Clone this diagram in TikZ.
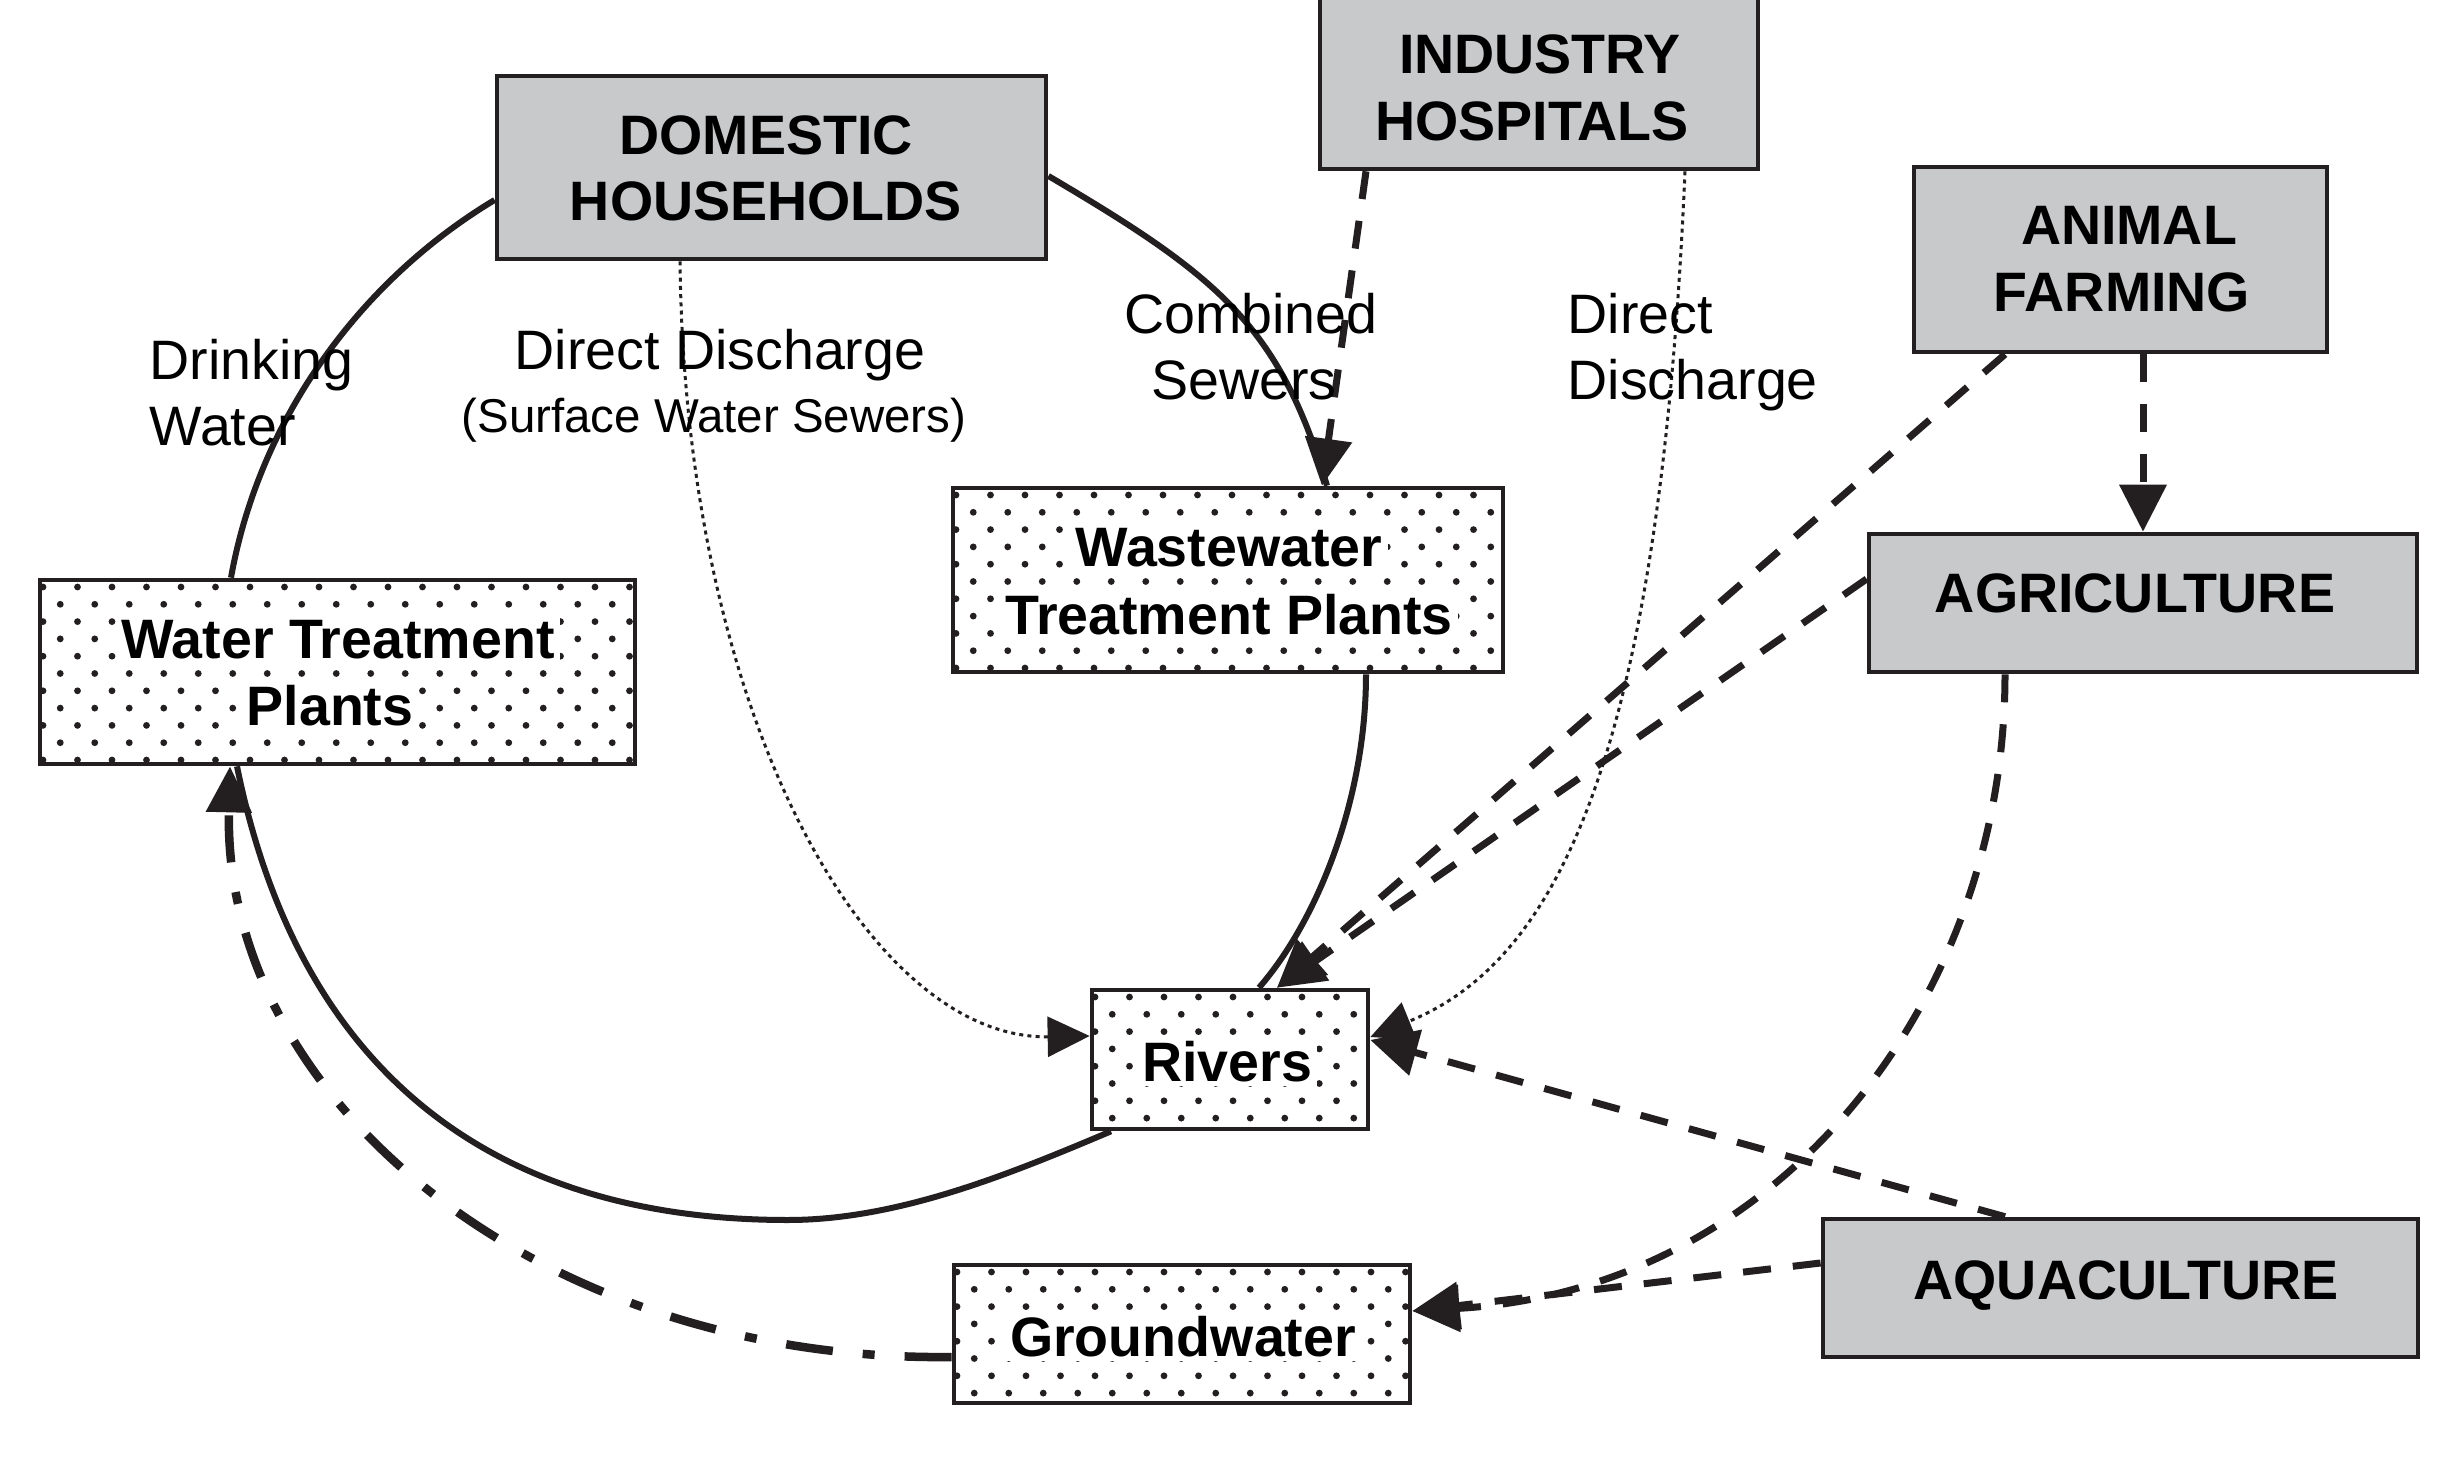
\documentclass[tikz,border=0pt]{standalone}
\usepackage{fontspec}
\setmainfont{Liberation Sans}
\usetikzlibrary{arrows.meta}
\definecolor{ink}{RGB}{35,31,32}
\definecolor{boxgray}{RGB}{200,201,203}
\pgfdeclarelayer{bg}
\pgfsetlayers{bg,main}

\newcommand\dotgrid[4]{%
  \begin{scope}
    \clip (#1,#2) rectangle (#3,#4);
    \pgfmathsetmacro\nr{int(((#4)-(#2))/17.3)+1}
    \pgfmathsetmacro\nc{int(((#3)-(#1))/34.5)+1}
    \foreach \r in {0,...,\nr}{
      \foreach \c in {0,...,\nc}{
        \fill[ink] ({#1+3+34.5*\c+17.25*mod(\r,2)},{#2+7+17.3*\r}) circle[radius=0.034cm];
      }
    }
  \end{scope}}

\tikzset{
  box/.style={draw=ink, line width=0.045cm, inner sep=0pt, rectangle},
  graybox/.style={box, fill=boxgray},
  dotbox/.style={box, fill=white},
  bt/.style={font=\fontsize{15.8}{19}\selectfont\bfseries, text=black, inner sep=0pt},
  dbt/.style={bt, fill=white, inner xsep=1.5pt, inner ysep=1.2pt},
  lt/.style={font=\fontsize{15.8}{19}\selectfont, text=black, inner sep=0pt},
  st/.style={font=\fontsize{13.5}{16}\selectfont, text=black, inner sep=0pt},
  circ/.style={draw=ink, line width=0.06cm},
  dsh/.style={draw=ink, line width=0.07cm, dash pattern=on 0.28cm off 0.22cm,
    -{Triangle[length=0.47cm,width=0.46cm]}},
  dotl/.style={draw=ink, line width=0.03cm, dash pattern=on 0.04cm off 0.042cm,
    -{Triangle[length=0.42cm,width=0.40cm]}},
  ddot/.style={draw=ink, line width=0.085cm, dash pattern=on 0.47cm off 0.3cm on 0.12cm off 0.3cm,
    -{Triangle[length=0.46cm,width=0.44cm]}},
}

\begin{document}
\begin{tikzpicture}[x=0.01cm, y=-0.01cm]
\useasboundingbox (0,0) rectangle (2445,1470);

% gray boxes
\node[graybox, minimum width=5.49cm, minimum height=1.83cm] (dom) at (771.5,167.5) {};
\node[graybox, minimum width=4.38cm, minimum height=1.81cm] (ind) at (1539,78.5) {};
\node[graybox, minimum width=4.13cm, minimum height=1.85cm] (ani) at (2120.5,259.5) {};
\node[graybox, minimum width=5.48cm, minimum height=1.38cm] (agr) at (2143,603) {};
\node[graybox, minimum width=5.95cm, minimum height=1.38cm] (aqu) at (2120.5,1288) {};
% dotted boxes
\node[dotbox, minimum width=5.50cm, minimum height=1.84cm] (wwtp) at (1228,580) {};
\node[dotbox, minimum width=5.95cm, minimum height=1.84cm] (wtp) at (337.5,672) {};
\node[dotbox, minimum width=2.76cm, minimum height=1.39cm] (riv) at (1230,1059.5) {};
\node[dotbox, minimum width=4.56cm, minimum height=1.38cm] (gw) at (1182,1334) {};

\dotgrid{953}{488}{1503}{672}
\dotgrid{40}{580}{635}{764}
\dotgrid{1092}{990}{1368}{1129}
\dotgrid{954}{1265}{1410}{1403}

% box texts
\node[bt, anchor=base] (dom-a) at (766,155) {DOMESTIC};
\node[bt, anchor=base] (dom-b) at (766,221) {HOUSEHOLDS};
\node[bt, anchor=base] (ind-a) at (1540,74) {INDUSTRY};
\node[bt, anchor=base] (ind-b) at (1532,141) {HOSPITALS};
\node[bt, anchor=base] (ani-a) at (2129,245) {ANIMAL};
\node[bt, anchor=base] (ani-b) at (2122,312) {FARMING};
\node[bt, anchor=base] (agr-a) at (2135,612) {AGRICULTURE};
\node[bt, anchor=base] (aqu-a) at (2126,1299) {AQUACULTURE};
\node[dbt, anchor=base] (wwtp-a) at (1229,567) {Wastewater};
\node[dbt, anchor=base] (wwtp-b) at (1229,634) {Treatment Plants};
\node[dbt, anchor=base] (wtp-a) at (338,659) {Water Treatment};
\node[dbt, anchor=base] (wtp-b) at (330,725) {Plants};
\node[dbt, anchor=base] (riv-a) at (1227,1081) {Rivers};
\node[dbt, anchor=base] (gw-a) at (1183,1356) {Groundwater};

% connector labels
\node[lt, anchor=base west] (dw-a) at (149,380) {Drinking};
\node[lt, anchor=base west] (dw-b) at (149,446) {Water};
\node[lt, anchor=base] (dd-a) at (720,370) {Direct Discharge};
\node[st, anchor=base] (dd-b) at (714,433) {(Surface Water Sewers)};
\node[lt, anchor=base] (cs-a) at (1251,334) {Combined};
\node[lt, anchor=base] (cs-b) at (1244,400) {Sewers};
\node[lt, anchor=base west] (di-a) at (1567,334) {Direct};
\node[lt, anchor=base west] (di-b) at (1567,400) {Discharge};

\begin{pgfonlayer}{bg}
\fill[white] (0,0) rectangle (2445,1470);
% the water cycle (solid)
\draw[circ] ([shift={(-106.5,0)}]wtp.north) .. controls (258.5,423.4) and (355.8,283.5) .. ([shift={(0,32.5)}]dom.west);
\draw[circ] ([shift={(0,8.5)}]dom.east) .. controls (1218,276) and (1279,325) .. ([shift={(99,0)}]wwtp.north);
\draw[circ] ([shift={(138,0)}]wwtp.south) .. controls (1366,800) and (1317,921) .. ([shift={(29,0)}]riv.north);
\draw[circ] ([shift={(-119,0)}]riv.south) .. controls (1010,1174) and (898,1220) .. (788,1220)
   .. controls (488,1220) and (298,1068) .. ([shift={(-100.5,0)}]wtp.south);
% dotted direct discharges
\draw[dotl] ([shift={(-91.5,0)}]dom.south) .. controls (685,720) and (870,1040) .. ([shift={(0,-23.5)}]riv.west);
\draw[dotl] ([shift={(146,0)}]ind.south) .. controls (1660,750) and (1560,960) .. ([shift={(0,-22.5)}]riv.east);
% dashed
\draw[dsh] ([shift={(-173,0)}]ind.south) -- ([shift={(94,0)}]wwtp.north);
\draw[dsh] ([shift={(22.5,0)}]ani.south) -- (agr.north);
\draw[dsh] ([shift={(-115.5,0)}]ani.south) -- ([shift={(47,0)}]riv.north);
\draw[dsh] ([shift={(0,-24)}]agr.west) -- ([shift={(47,0)}]riv.north);
\draw[dsh] ([shift={(-138,0)}]agr.south) .. controls (2005,1000) and (1780,1290) .. ([shift={(0,-23)}]gw.east);
\draw[dsh] ([shift={(-115.5,0)}]aqu.north) -- ([shift={(0,-19.5)}]riv.east);
\draw[dsh] ([shift={(0,-25)}]aqu.west) -- ([shift={(0,-23)}]gw.east);
% dash-dot groundwater to water treatment
\draw[ddot] ([shift={(0,23)}]gw.west) .. controls (540,1362) and (222,1100) .. ([shift={(-107.5,0)}]wtp.south);
\end{pgfonlayer}
\end{tikzpicture}
\end{document}
